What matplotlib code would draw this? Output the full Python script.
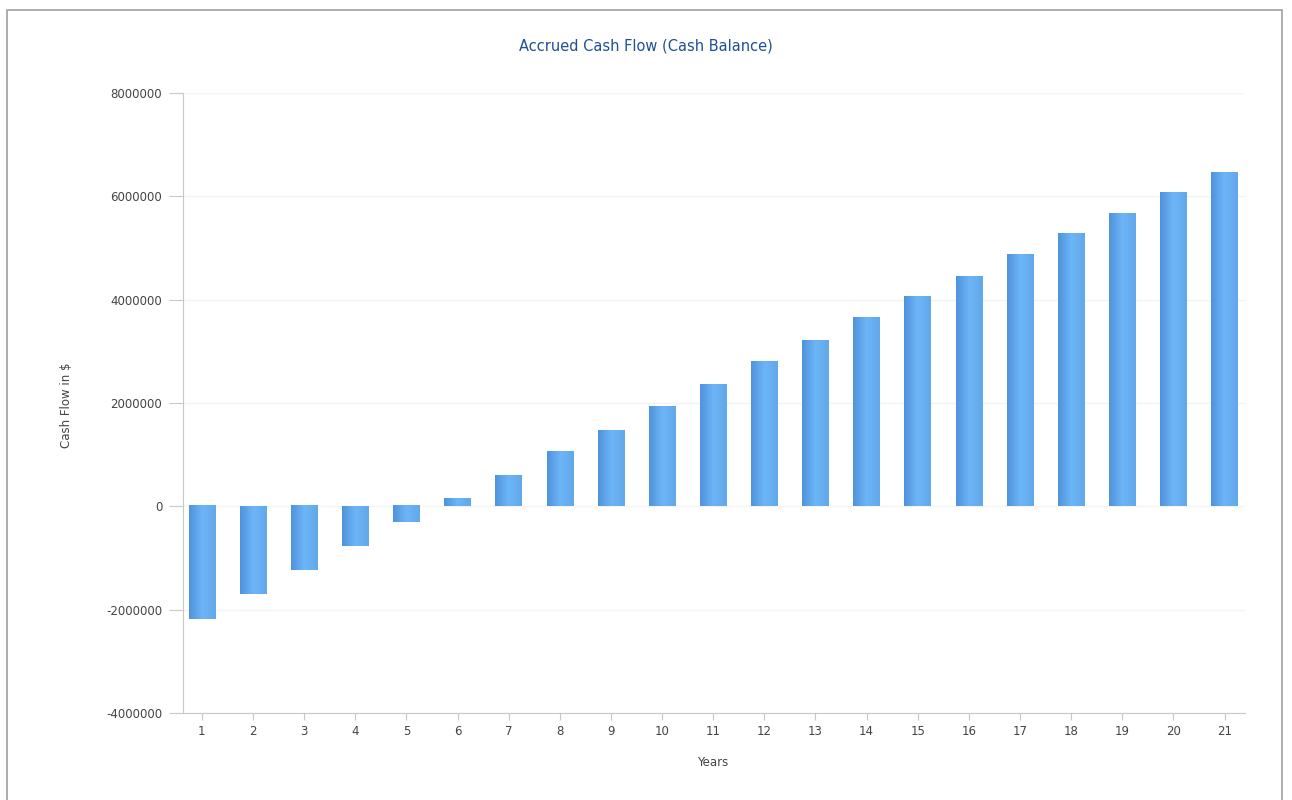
import numpy as np
import matplotlib.pyplot as plt
from matplotlib.colors import LinearSegmentedColormap
from matplotlib.patches import Rectangle

years = list(range(1, 22))
cash_balance = [-2190000, -1700000, -1240000, -770000, -310000, 150000, 600000,
                1050000, 1470000, 1920000, 2360000, 2790000, 3210000, 3640000,
                4050000, 4450000, 4860000, 5270000, 5670000, 6060000, 6450000]
yticks = [-4000000, -2000000, 0, 2000000, 4000000, 6000000, 8000000]

fig = plt.figure(figsize=(12.92, 8), dpi=100)
fig.patches.append(Rectangle((7 / 1292, -0.01), 1275 / 1292, 0.998,
                             transform=fig.transFigure, fill=False,
                             edgecolor="#a0a0a0", linewidth=1.2))
ax = fig.add_axes([183 / 1292, 1 - 713 / 800, 1062 / 1292, 620 / 800])

# horizontal gradient for each bar
cmap = LinearSegmentedColormap.from_list("bar", ["#4f93dc", "#6cb5f6", "#62a8ea"])
grad = np.linspace(0, 1, 64).reshape(1, -1)
w = 0.52
for x, v in zip(years, cash_balance):
    ax.imshow(grad, cmap=cmap, aspect="auto", interpolation="bilinear",
              extent=[x - w / 2, x + w / 2, min(0, v), max(0, v)], zorder=3)

ax.set_xlim(0.63, 21.4)
ax.set_ylim(-4000000, 8000000)
ax.set_xticks(years)
ax.set_yticks(yticks)
ax.set_yticklabels([str(t) for t in yticks])
ax.grid(axis="y", color="#f4f4f4", linewidth=1, zorder=0)
for s in ["top", "right"]:
    ax.spines[s].set_visible(False)
for s in ["left", "bottom"]:
    ax.spines[s].set_color("#c8c8c8")
ax.tick_params(colors="#c8c8c8", labelcolor="#444444", labelsize=8.5)
ax.tick_params(axis="y", length=10, pad=5)
ax.tick_params(axis="x", length=5)

fig.text(0.5, 1 - 46 / 800, "Accrued Cash Flow (Cash Balance)",
         ha="center", va="center", fontsize=10.5, color="#1f4f96")
fig.text(713 / 1292, 1 - 763 / 800, "Years", ha="center", va="center",
         fontsize=8.5, color="#444444")
fig.text(67 / 1292, 1 - 405 / 800, "Cash Flow in $", ha="center", va="center",
         rotation=90, fontsize=8.5, color="#444444")

fig.savefig("out.png", dpi=100)
